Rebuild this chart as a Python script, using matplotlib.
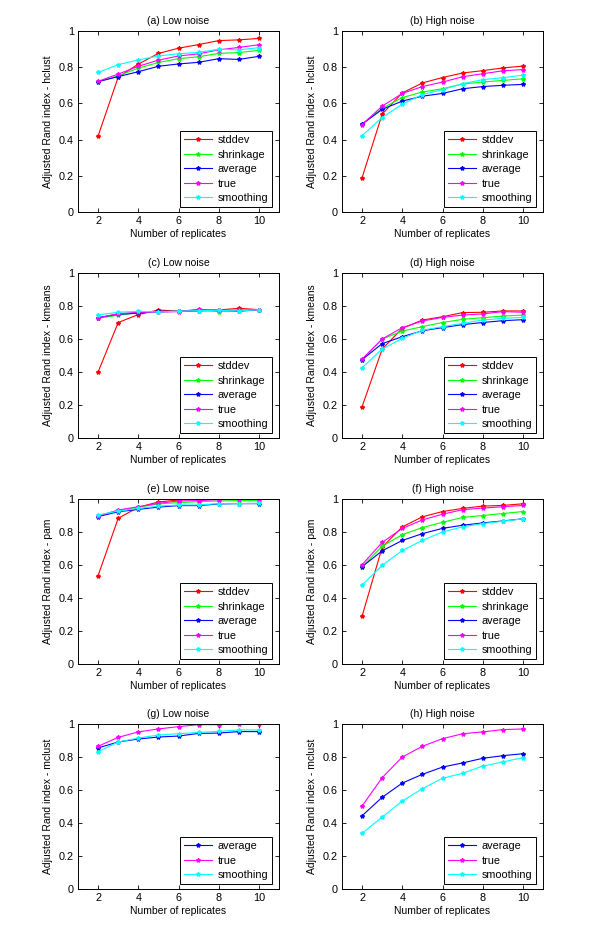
import matplotlib
matplotlib.use("Agg")
import matplotlib.pyplot as plt
from matplotlib.ticker import FormatStrFormatter

replicates = [2, 3, 4, 5, 6, 7, 8, 9, 10]
method_names = ["stddev", "shrinkage", "average", "true", "smoothing"]
method_colors = ["#ff0000", "#00ff00", "#0000ff", "#ff00ff", "#00ffff"]

# (a) hclust, low noise
a_stddev = [0.42, 0.745, 0.817, 0.876, 0.905, 0.925, 0.947, 0.951, 0.959]
a_shrinkage = [0.72, 0.752, 0.795, 0.826, 0.847, 0.858, 0.876, 0.881, 0.893]
a_average = [0.72, 0.748, 0.775, 0.805, 0.818, 0.827, 0.847, 0.843, 0.86]
a_true = [0.722, 0.762, 0.805, 0.839, 0.862, 0.874, 0.896, 0.909, 0.924]
a_smoothing = [0.771, 0.814, 0.84, 0.862, 0.874, 0.882, 0.899, 0.896, 0.908]

# (b) hclust, high noise
b_stddev = [0.19, 0.541, 0.658, 0.713, 0.743, 0.768, 0.781, 0.796, 0.806]
b_shrinkage = [0.485, 0.573, 0.632, 0.663, 0.681, 0.707, 0.718, 0.727, 0.736]
b_average = [0.486, 0.567, 0.613, 0.64, 0.655, 0.681, 0.693, 0.70, 0.705]
b_true = [0.483, 0.585, 0.655, 0.693, 0.718, 0.747, 0.764, 0.78, 0.787]
b_smoothing = [0.422, 0.522, 0.596, 0.649, 0.676, 0.709, 0.731, 0.742, 0.756]

# (c) kmeans, low noise
c_stddev = [0.40, 0.70, 0.748, 0.776, 0.768, 0.776, 0.776, 0.786, 0.778]
c_shrinkage = [0.726, 0.744, 0.76, 0.766, 0.768, 0.776, 0.766, 0.776, 0.776]
c_average = [0.73, 0.75, 0.756, 0.768, 0.768, 0.77, 0.774, 0.768, 0.778]
c_true = [0.728, 0.754, 0.762, 0.762, 0.766, 0.78, 0.774, 0.774, 0.774]
c_smoothing = [0.746, 0.762, 0.768, 0.764, 0.768, 0.772, 0.774, 0.77, 0.778]

# (d) kmeans, high noise
d_stddev = [0.19, 0.539, 0.665, 0.715, 0.735, 0.76, 0.762, 0.77, 0.77]
d_shrinkage = [0.475, 0.60, 0.648, 0.675, 0.70, 0.719, 0.729, 0.739, 0.745]
d_average = [0.475, 0.572, 0.614, 0.65, 0.669, 0.687, 0.70, 0.711, 0.717]
d_true = [0.479, 0.60, 0.669, 0.709, 0.731, 0.745, 0.752, 0.766, 0.762]
d_smoothing = [0.426, 0.539, 0.604, 0.653, 0.675, 0.695, 0.715, 0.725, 0.731]

# (e) pam, low noise
e_stddev = [0.536, 0.883, 0.95, 0.982, 0.994, 0.998, 1.0, 1.0, 1.0]
e_shrinkage = [0.897, 0.93, 0.951, 0.97, 0.978, 0.984, 0.988, 0.99, 0.99]
e_average = [0.893, 0.923, 0.937, 0.951, 0.96, 0.96, 0.97, 0.972, 0.972]
e_true = [0.897, 0.933, 0.953, 0.974, 0.988, 0.99, 0.996, 0.998, 0.998]
e_smoothing = [0.903, 0.927, 0.943, 0.957, 0.964, 0.964, 0.972, 0.972, 0.974]

# (f) pam, high noise
f_stddev = [0.29, 0.708, 0.831, 0.892, 0.924, 0.943, 0.957, 0.961, 0.971]
f_shrinkage = [0.59, 0.714, 0.784, 0.827, 0.859, 0.888, 0.90, 0.912, 0.924]
f_average = [0.59, 0.686, 0.749, 0.79, 0.822, 0.841, 0.855, 0.867, 0.88]
f_true = [0.602, 0.737, 0.822, 0.873, 0.908, 0.935, 0.945, 0.953, 0.961]
f_smoothing = [0.478, 0.598, 0.688, 0.749, 0.80, 0.831, 0.851, 0.865, 0.88]

# (g) mclust, low noise
g_average = [0.855, 0.891, 0.909, 0.921, 0.927, 0.943, 0.945, 0.954, 0.954]
g_true = [0.865, 0.919, 0.952, 0.97, 0.984, 0.996, 0.996, 1.0, 1.0]
g_smoothing = [0.832, 0.891, 0.915, 0.933, 0.941, 0.949, 0.955, 0.964, 0.964]

# (h) mclust, high noise
h_average = [0.444, 0.556, 0.642, 0.695, 0.739, 0.764, 0.792, 0.808, 0.82]
h_true = [0.503, 0.675, 0.80, 0.865, 0.911, 0.941, 0.952, 0.966, 0.97]
h_smoothing = [0.337, 0.436, 0.533, 0.608, 0.671, 0.701, 0.745, 0.77, 0.796]

panels = [
    ("(a) Low noise", "hclust", [a_stddev, a_shrinkage, a_average, a_true, a_smoothing], method_names),
    ("(b) High noise", "hclust", [b_stddev, b_shrinkage, b_average, b_true, b_smoothing], method_names),
    ("(c) Low noise", "kmeans", [c_stddev, c_shrinkage, c_average, c_true, c_smoothing], method_names),
    ("(d) High noise", "kmeans", [d_stddev, d_shrinkage, d_average, d_true, d_smoothing], method_names),
    ("(e) Low noise", "pam", [e_stddev, e_shrinkage, e_average, e_true, e_smoothing], method_names),
    ("(f) High noise", "pam", [f_stddev, f_shrinkage, f_average, f_true, f_smoothing], method_names),
    ("(g) Low noise", "mclust", [g_average, g_true, g_smoothing], method_names[2:]),
    ("(h) High noise", "mclust", [h_average, h_true, h_smoothing], method_names[2:]),
]

W, H = 600, 935
plt.rcParams['font.family'] = ['Liberation Sans', 'DejaVu Sans']
plt.rcParams['font.size'] = 7.5
fig = plt.figure(figsize=(W / 100, H / 100), dpi=100)

col_left = [78, 342]
ax_w = 201
rows = [(31, 212), (273, 438), (499, 664), (724, 889)]

for i, (title, algo, series, names) in enumerate(panels):
    top, bot = rows[i // 2]
    left = col_left[i % 2]
    ax = fig.add_axes([left / W, 1 - bot / H, ax_w / W, (bot - top) / H])
    for vals, name in zip(series, names):
        color = method_colors[method_names.index(name)]
        ax.plot(replicates, vals, '-', marker='*', color=color, lw=0.8, ms=3,
                label=name)
    ax.set_xlim(1, 11)
    ax.set_ylim(0, 1)
    ax.set_xticks([2, 4, 6, 8, 10])
    ax.set_yticks([0, 0.2, 0.4, 0.6, 0.8, 1])
    ax.yaxis.set_major_formatter(FormatStrFormatter('%g'))
    ax.tick_params(direction='in', top=True, right=True, length=3, width=0.6,
                   labelsize=7.8, pad=3)
    for sp in ax.spines.values():
        sp.set_linewidth(0.7)
    ax.set_title(title, fontsize=7.5, pad=5)
    ax.set_xlabel("Number of replicates", fontsize=7.5, labelpad=2)
    ax.set_ylabel("Adjusted Rand index - " + algo, fontsize=7.5, labelpad=4)
    h = bot - top
    leg = ax.legend(loc='lower right', bbox_to_anchor=(1 - 7 / ax_w, 5 / h),
                    borderaxespad=0, fancybox=False, edgecolor='black',
                    framealpha=1, handlelength=2.6, labelspacing=0.42,
                    fontsize=7.8, borderpad=0.35, handletextpad=0.5)
    leg.get_frame().set_linewidth(0.7)

fig.savefig("out.png", dpi=100)
